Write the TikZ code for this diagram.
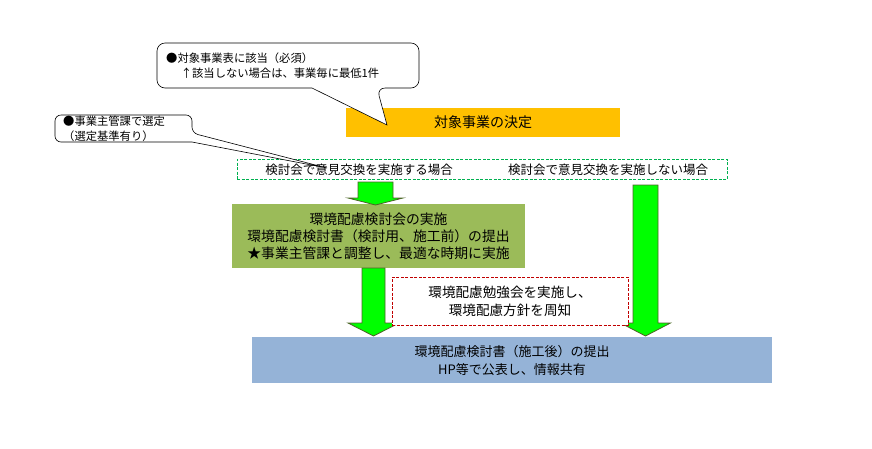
\documentclass[tikz,border=0pt]{standalone}
\usepackage{fontspec}
\setmainfont{Noto Sans CJK JP}
\usetikzlibrary{calc}

\definecolor{decidefill}{HTML}{FFC000}
\definecolor{meetfill}{HTML}{9BBB59}
\definecolor{reportfill}{HTML}{95B3D7}
\definecolor{optframe}{RGB}{0,176,80}
\definecolor{studyline}{HTML}{C00000}
\definecolor{arrowfill}{HTML}{00FF00}
\definecolor{arrowline}{HTML}{4F6228}

% block arrow: top, tip, half shaft, half head, head length
\newcommand{\blockarrow}[5]{%
  \draw[arrowbody] let \p1=(#1), \p2=(#2) in
    (\x1-#3pt,\y1) -- (\x1+#3pt,\y1) -- (\x1+#3pt,\y2+#5pt) -- (\x1+#4pt,\y2+#5pt)
    -- (\x2,\y2) -- (\x1-#4pt,\y2+#5pt) -- (\x1-#3pt,\y2+#5pt) -- cycle;}

\begin{document}
\begin{tikzpicture}[
    x=1pt, y=-1pt,
    stage/.style={inner sep=0pt, align=center, font=\fontsize{13}{18}\selectfont},
    frame/.style={dash pattern=on 3pt off 1.5pt, line width=0.8pt, inner sep=0pt},
    note/.style={draw=black, fill=white, line width=0.6pt},
    notetext/.style={inner sep=0pt, align=left, anchor=west, font=\fontsize{11.3}{15}\selectfont},
    arrowbody/.style={draw=arrowline, fill=arrowfill, line width=0.8pt, line join=miter}
]
\useasboundingbox (0,0) rectangle (872,448);

\node[stage, fill=decidefill, minimum width=274pt, minimum height=29pt, font=\fontsize{14}{18}\selectfont] (decide) at (483,122.5) {対象事業の決定};
\node[frame, draw=optframe, minimum width=490pt, minimum height=20pt] (choice) at (482,169) {};
\node[stage, font=\fontsize{12.5}{16}\selectfont] (opt1) at (359,170) {検討会で意見交換を実施する場合};
\node[stage, font=\fontsize{12.5}{16}\selectfont] (opt2) at (608,170) {検討会で意見交換を実施しない場合};
\node[stage, fill=meetfill, minimum width=293pt, minimum height=64pt, font=\fontsize{13.8}{17}\selectfont] (meet) at (378.5,236)
  {環境配慮検討会の実施\\環境配慮検討書（検討用、施工前）の提出\\★事業主管課と調整し、最適な時期に実施};
\node[stage, fill=reportfill, minimum width=520pt, minimum height=46pt] (report) at (512,360)
  {環境配慮検討書（施工後）の提出\\HP等で公表し、情報共有};

% arrows
\coordinate (a1s) at (375.5,182);
\coordinate (a1e) at (375.5,205);
\coordinate (a2s) at (373.5,268);
\coordinate (a2e) at (373.5,336);
\coordinate (a3s) at (645.5,185);
\coordinate (a3e) at (645.5,336);
\blockarrow{a1s}{a1e}{17.5}{27.5}{7}
\blockarrow{a2s}{a2e}{11.5}{25.5}{13}
\blockarrow{a3s}{a3e}{12.5}{25}{13}

\node[stage, frame, draw=studyline, fill=white, minimum width=236pt, minimum height=48pt, font=\fontsize{13.6}{18}\selectfont] (study) at (510,301)
  {環境配慮勉強会を実施し、\\環境配慮方針を周知};

% callouts
\draw[note, rounded corners=8pt] (157,65) |- (419,43) |- (377,88) [sharp corners] -- (387,125) -- (312,88) [rounded corners=8pt] -| (157,65) -- cycle;
\node[notetext] (must) at (166,65.5) {●対象事業表に該当（必須）\\\hspace*{1.3em}↑該当しない場合は、事業毎に最低1件};

\draw[note, rounded corners=6pt] (55,128) |- (192,115) -- (192,133) [sharp corners] -- (327,168) -- (192,142) [rounded corners=6pt] -| (55,128) -- cycle;
\node[notetext] (select) at (63,128.5) {●事業主管課で選定\\（選定基準有り）};
\end{tikzpicture}
\end{document}
